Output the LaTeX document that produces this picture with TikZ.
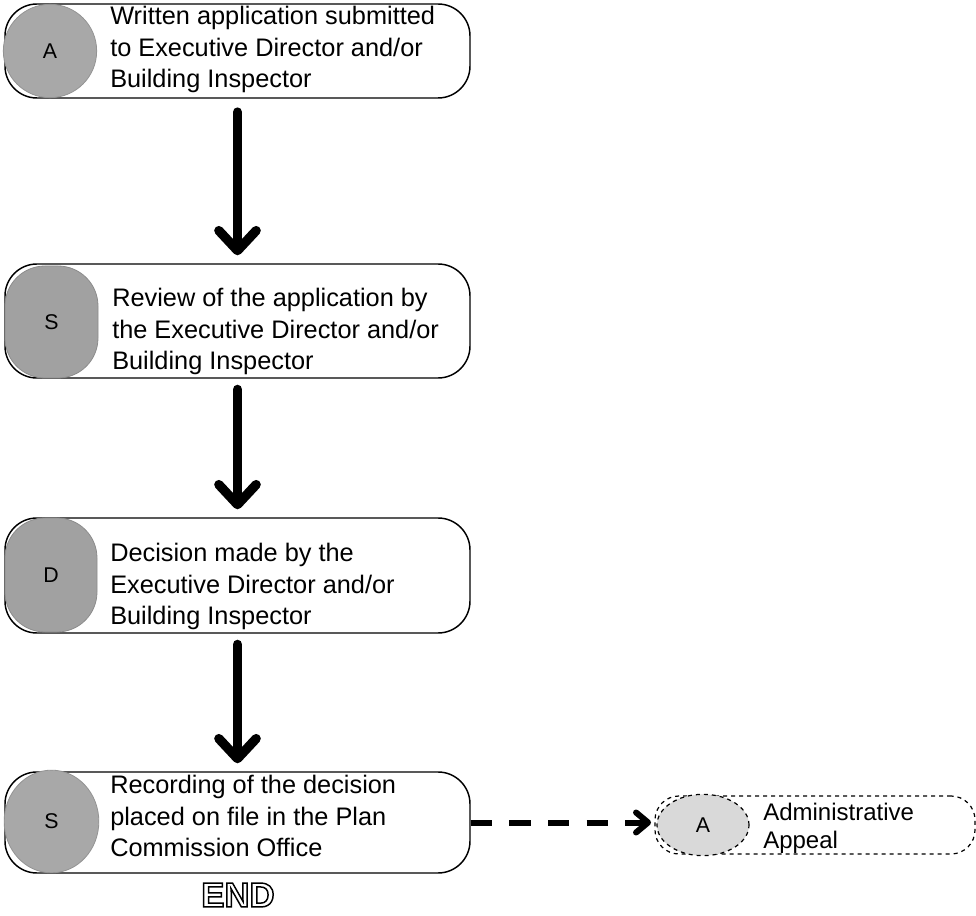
\documentclass[tikz,border=0pt]{standalone}
\usepackage{fontspec}
\setmainfont{Liberation Sans}
\usetikzlibrary{arrows.meta,shapes.geometric}
\newcommand{\hollowtext}[1]{\special{pdf:literal direct 1 Tr 1.1 w}#1\special{pdf:literal direct 0 Tr}}

\begin{document}
\begin{tikzpicture}[x=0.75pt,y=0.75pt,yscale=-1,xscale=1,
  stepbox/.style={draw, line width=1.1pt, rounded corners=24pt, minimum width=348.75pt, inner sep=0pt},
  badgeround/.style={ellipse, draw=gray!85, line width=0.6pt, fill=gray!68, inner sep=0pt, font=\fontsize{16}{16}\selectfont},
  badgesquare/.style={rectangle, rounded corners=30pt, draw=gray!90, line width=0.6pt, fill=gray!74, inner sep=0pt, font=\fontsize{16}{16}\selectfont},
  steptext/.style={anchor=north west, inner sep=0pt, align=left, font=\fontsize{19}{23.6}\selectfont},
  flowarrow/.style={line width=7pt, line cap=round, -{Straight Barb[length=15pt,width=28pt,round]}},
  appealarrow/.style={line width=4.5pt, dash pattern=on 16pt off 13pt, -{Straight Barb[length=9pt,width=15pt,round]}}
]
\useasboundingbox (0,0) rectangle (976,916);

%Step boxes
\node [stepbox, minimum height=70.5pt] (b1) at (237.5,51) {};
\node [stepbox, minimum height=85.5pt] (b2) at (237.5,321) {};
\node [stepbox, minimum height=86.25pt] (b3) at (237.5,575.5) {};
\node [stepbox, minimum height=75.75pt] (b4) at (237.5,822.5) {};

%Badges
\node [badgeround, minimum width=70pt, minimum height=70pt] (a1) at (50,51) {A};
\node [badgesquare, minimum width=69.75pt, minimum height=84pt] (s2) at (51.5,322) {S};
\node [badgesquare, minimum width=69pt, minimum height=85.5pt] (d3) at (51,575) {D};
\node [badgeround, minimum width=71pt, minimum height=77pt] (s4) at (51.5,821.5) {S};

% Text Node
\node [steptext] (t1) at (110,6) {Written application submitted\\to Executive Director and/or\\Building Inspector};
% Text Node
\node [steptext] (t2) at (112,288) {Review of the application by\\the Executive Director and/or\\Building Inspector};
% Text Node
\node [steptext] (t3) at (110,543) {Decision made by the\\Executive Director and/or\\Building Inspector};
% Text Node
\node [steptext] (t4) at (110,775) {Recording of the decision\\placed on file in the Plan\\Commission Office};

%Straight Lines
\draw [flowarrow, shorten <=10pt, shorten >=6pt] (b1.south) -- (b2.north);
\draw [flowarrow, shorten <=8pt, shorten >=6pt] (b2.south) -- (b3.north);
\draw [flowarrow, shorten <=8pt, shorten >=6pt] (b3.south) -- (b4.north);

%Appeal
\node [draw, dashed, line width=0.9pt, rounded corners=18pt, minimum width=240pt, minimum height=43.5pt] (apbox) at (815,825) {};
\node [badgeround, fill=gray!30, draw=black, dashed, line width=0.9pt, minimum width=69pt, minimum height=46pt] (ap) at (703,825) {A};
\node [steptext, font=\fontsize{18}{21}\selectfont] (tap) at (763,803) {Administrative\\Appeal};
\draw [appealarrow, shorten >=4pt] (b4.east) -- (b4.east -| ap.west);

% Text Node
\node [font=\fontsize{26}{26}\selectfont\bfseries] (end) at (238,895) {\hollowtext{END}};

\end{tikzpicture}
\end{document}
